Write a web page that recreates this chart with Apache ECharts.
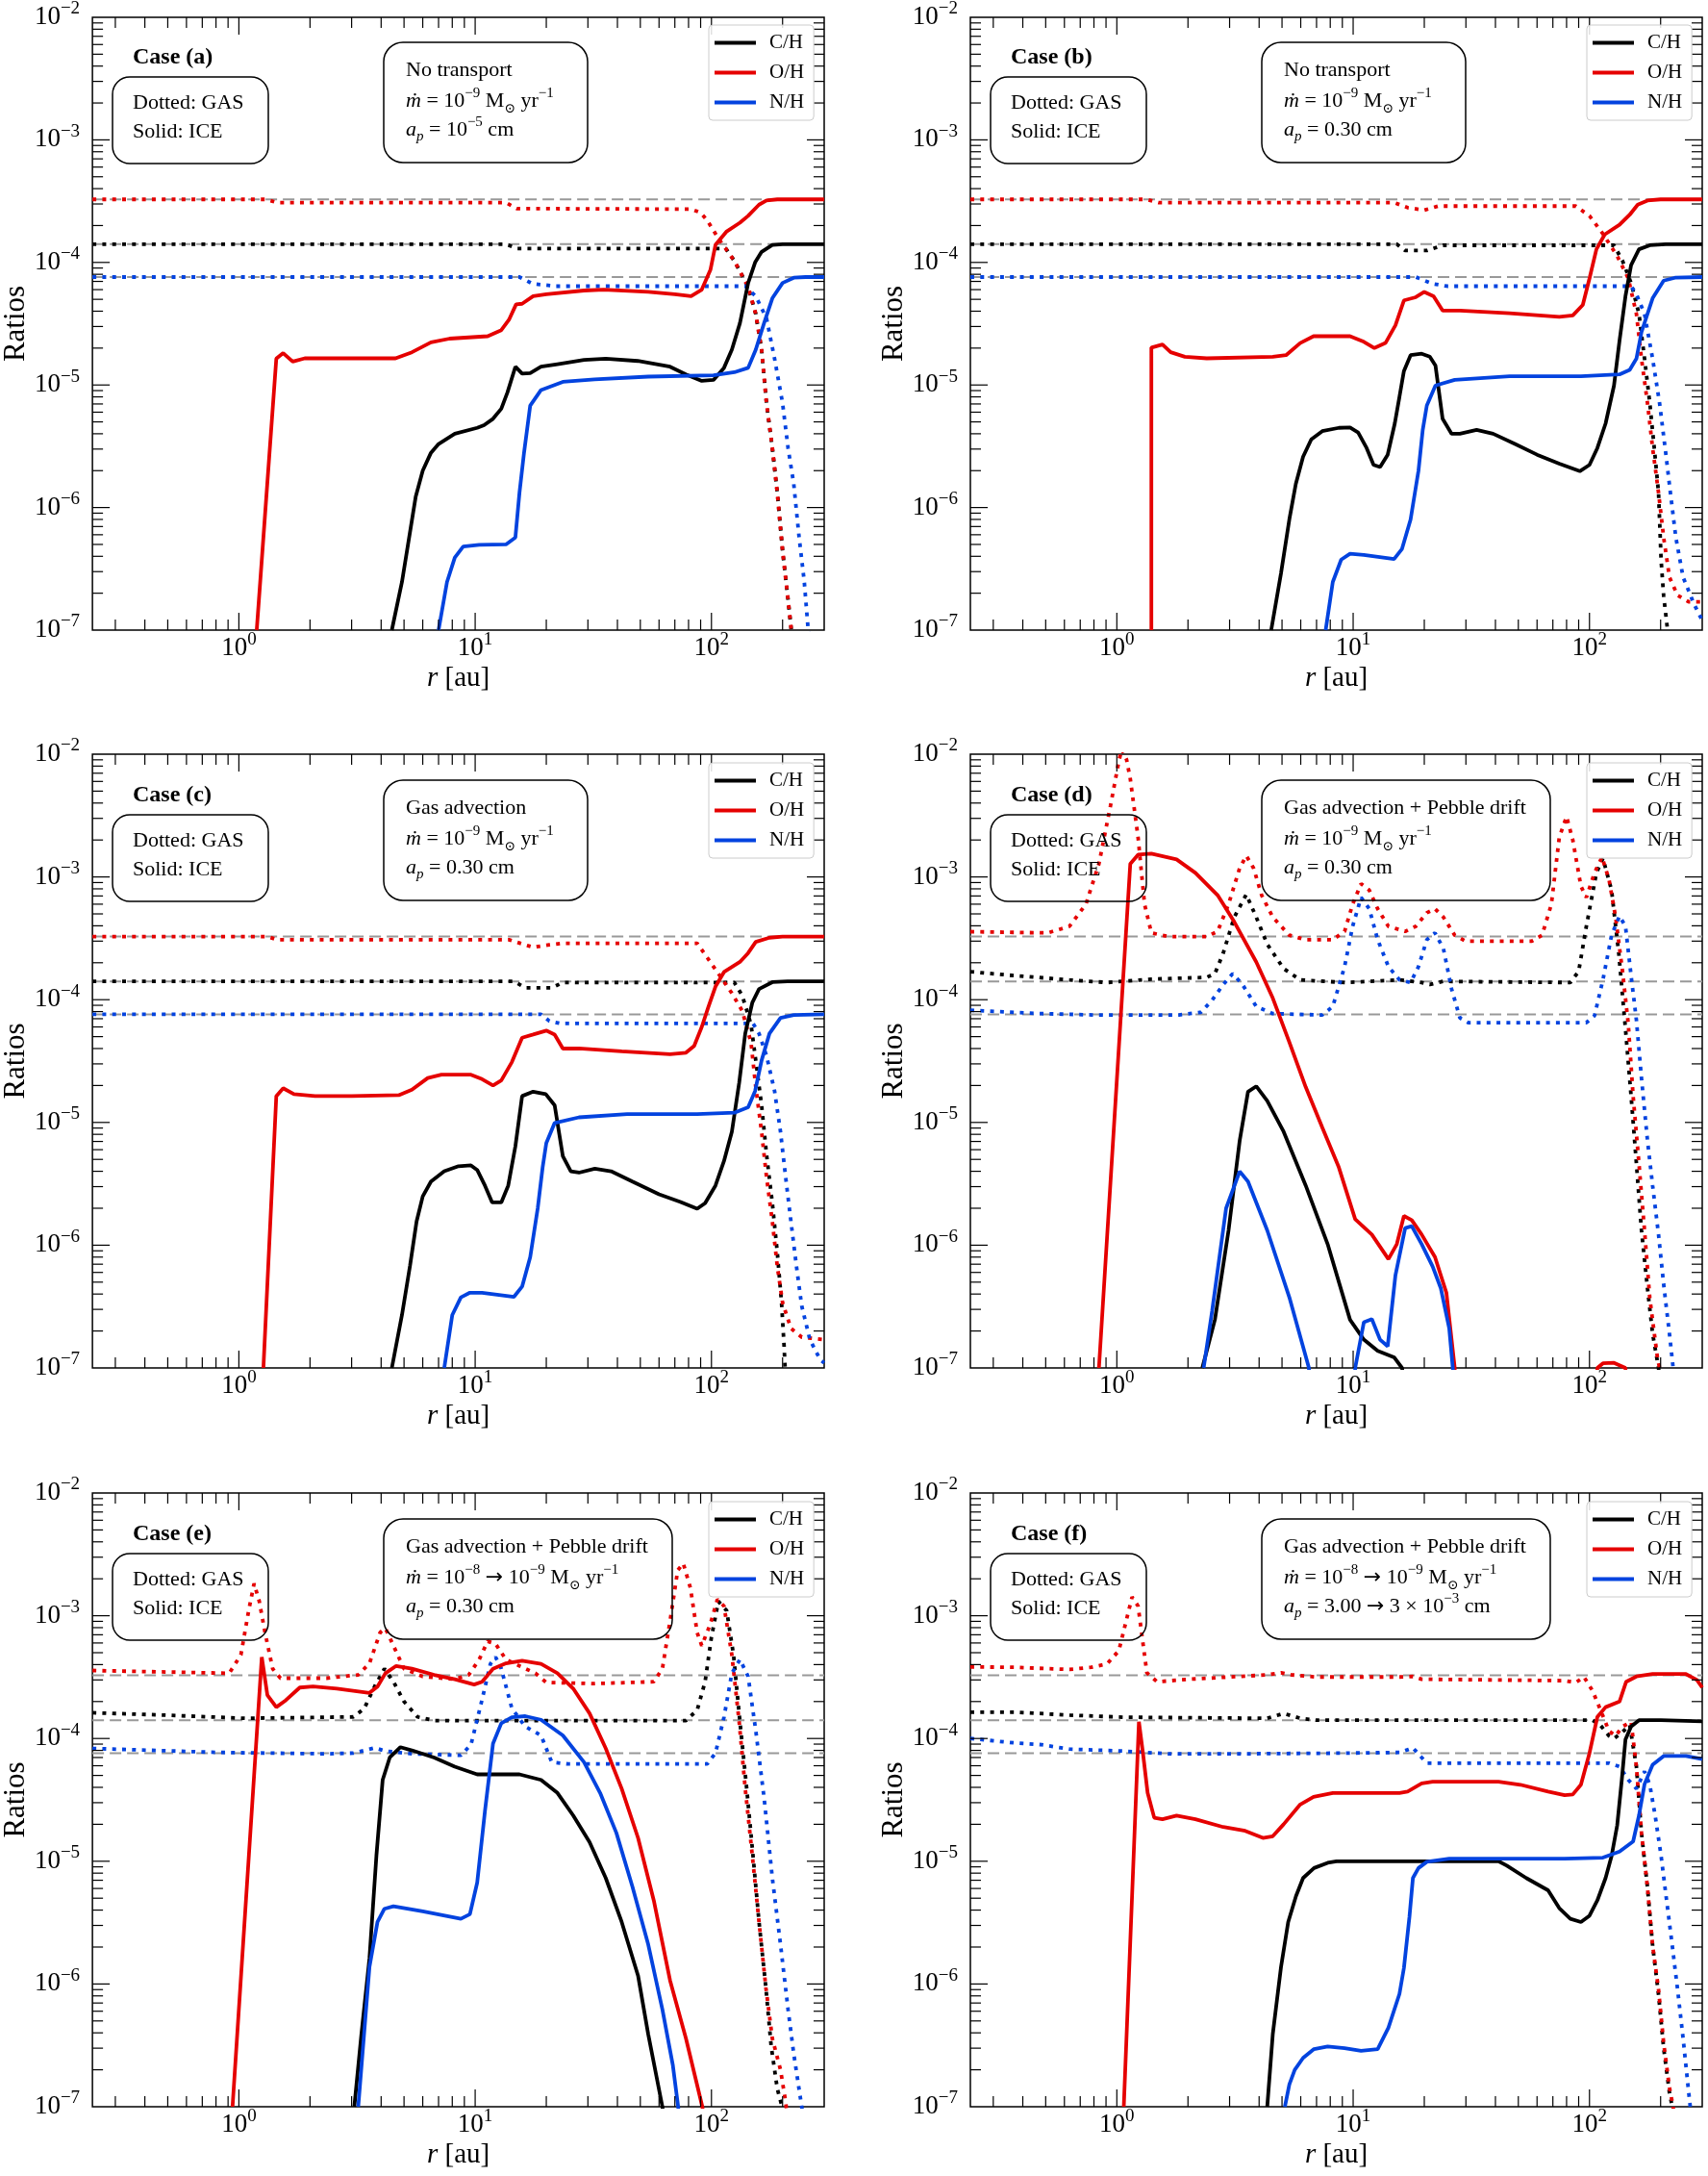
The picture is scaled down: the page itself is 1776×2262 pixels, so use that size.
<!DOCTYPE html>
<html>
<head>
<meta charset="utf-8">
<script src="https://cdn.jsdelivr.net/npm/echarts@6/dist/echarts.min.js"></script>
<style>
  html, body { margin: 0; padding: 0; background: #fff; }
  #main { width: 1776px; height: 2262px; }
</style>
</head>
<body>
<div id="main"></div>
<script>
// species and reference (dashed) ratios
const species = ['C/H', 'O/H', 'N/H'];
const speciesColor = ['#000000', '#e50000', '#0343df'];
const solarRatios = [1.41e-4, 3.27e-4, 7.6e-5];

// axis range / ticks
const xRange = [0.24, 300];
const yRange = [1e-7, 1e-2];
const xMinorTicks = [0.3, 0.4, 0.5, 0.6, 0.7, 0.8, 0.9, 2, 3, 4, 5, 6, 7, 8, 9, 20, 30, 40, 50, 60, 70, 80, 90, 200];
const xMajorTicks = [1, 10, 100];
const yMajorTicks = [1e-6, 1e-5, 1e-4, 1e-3];
const yMinorTicks = [];
[-7, -6, -5, -4, -3].forEach(function (e) {
  for (let m = 2; m <= 9; m++) yMinorTicks.push(m * Math.pow(10, e));
});

// ---------- case (a) ----------
const aCH_gas = [[0.24,1.41e-4],[13.5,1.41e-4],[15,1.3e-4],[115,1.3e-4],[125,1.03e-4],[143,6.3e-5],[154,3.8e-5],[163,1.94e-5],[171,7.1e-6],[181,3.06e-6],[190,1.32e-6],[200,4.45e-7],[211,1.77e-7],[217,1.07e-7],[220,8e-8]];
const aOH_gas = [[0.24,3.27e-4],[1.3,3.27e-4],[1.45,3.08e-4],[13.5,3.08e-4],[15,2.75e-4],[82,2.72e-4],[90,2.55e-4],[96,2.2e-4],[107,1.57e-4],[125,1.03e-4],[143,6.3e-5],[154,3.8e-5],[163,1.94e-5],[171,7.1e-6],[181,3.06e-6],[190,1.32e-6],[200,4.45e-7],[211,1.77e-7],[217,1.07e-7],[220,8e-8]];
const aNH_gas = [[0.24,7.6e-5],[15.4,7.6e-5],[17.5,6.7e-5],[22,6.4e-5],[139,6.4e-5],[154,5.3e-5],[171,3.5e-5],[185,1.64e-5],[200,7.1e-6],[211,3.06e-6],[223,1.56e-6],[235,5.7e-7],[247,2.5e-7],[256,1.07e-7],[260,8e-8]];
const aCH_ice = [[4.44,1e-7],[4.9,2.47e-7],[5.6,1.22e-6],[6.0,2.0e-6],[6.5,2.8e-6],[7.0,3.3e-6],[8.2,4.0e-6],[10.2,4.47e-6],[10.9,4.7e-6],[11.9,5.3e-6],[12.9,6.4e-6],[13.7,8.7e-6],[14.8,1.41e-5],[15.8,1.24e-5],[17.1,1.25e-5],[19,1.41e-5],[22.3,1.48e-5],[28.9,1.6e-5],[35.7,1.64e-5],[48.8,1.57e-5],[66.8,1.41e-5],[78,1.22e-5],[91,1.08e-5],[102,1.1e-5],[113,1.38e-5],[122,1.94e-5],[132,3.2e-5],[143,6.8e-5],[153,1.0e-4],[163,1.22e-4],[181,1.39e-4],[200,1.41e-4],[300,1.41e-4]];
const aOH_ice = [[1.19,1e-7],[1.44,1.64e-5],[1.54,1.82e-5],[1.69,1.55e-5],[1.9,1.65e-5],[4.6,1.65e-5],[5.4,1.85e-5],[6.5,2.23e-5],[7.8,2.39e-5],[11.3,2.5e-5],[12.9,2.8e-5],[13.9,3.4e-5],[14.9,4.55e-5],[15.8,4.6e-5],[17.6,5.3e-5],[20,5.5e-5],[28.9,5.9e-5],[35,6.0e-5],[54,5.75e-5],[70,5.5e-5],[82,5.3e-5],[91,6e-5],[99,8.7e-5],[104,1.39e-4],[116,1.79e-4],[132,2.11e-4],[143,2.4e-4],[159,2.96e-4],[171,3.2e-4],[190,3.27e-4],[300,3.27e-4]];
const aNH_ice = [[7.0,1e-7],[7.6,2.47e-7],[8.2,3.9e-7],[8.9,4.8e-7],[10.4,4.96e-7],[13.5,5e-7],[14.8,5.7e-7],[15.4,1.32e-6],[16.1,2.8e-6],[17.1,6.8e-6],[19,9.1e-6],[23.5,1.06e-5],[32,1.11e-5],[54,1.17e-5],[102,1.2e-5],[125,1.27e-5],[143,1.38e-5],[154,1.94e-5],[167,3.2e-5],[181,5.1e-5],[200,6.8e-5],[223,7.5e-5],[250,7.6e-5],[300,7.6e-5]];

// ---------- case (b) ----------
const bCH_gas = [[0.24,1.41e-4],[15.3,1.41e-4],[16.6,1.25e-4],[20.5,1.25e-4],[24,1.38e-4],[127,1.38e-4],[138,1.03e-4],[150,6.8e-5],[162,3.8e-5],[171,1.64e-5],[180,7.1e-6],[188,3.06e-6],[196,1.32e-6],[201,3.7e-7],[206,1.9e-7],[214,1e-7],[216,8e-8]];
const bOH_gas = [[0.24,3.27e-4],[1.33,3.27e-4],[1.5,3.08e-4],[14.9,3.08e-4],[17,2.8e-4],[20,2.67e-4],[22.9,2.88e-4],[87.5,2.88e-4],[100,2.4e-4],[114,1.71e-4],[131,1.13e-4],[146,7.4e-5],[158,3.8e-5],[166,1.64e-5],[176,7.1e-6],[185,3.06e-6],[196,1.32e-6],[206,5.7e-7],[218,2.7e-7],[236,1.92e-7],[263,1.7e-7],[300,1.7e-7]];
const bNH_gas = [[0.24,7.6e-5],[18.4,7.6e-5],[21.7,6.7e-5],[25,6.4e-5],[150,6.4e-5],[158,5.5e-5],[171,3.8e-5],[185,1.64e-5],[198,7.1e-6],[209,3.06e-6],[220,1.32e-6],[232,5.7e-7],[249,2.7e-7],[277,1.63e-7],[300,1.2e-7]];
const bCH_ice = [[4.5,1e-7],[4.95,2.9e-7],[5.37,8e-7],[5.72,1.56e-6],[6.14,2.6e-6],[6.65,3.6e-6],[7.4,4.2e-6],[8.7,4.47e-6],[9.7,4.5e-6],[10.5,4.1e-6],[11.4,3.06e-6],[12.2,2.23e-6],[13.0,2.14e-6],[14.0,2.7e-6],[15.0,4.85e-6],[15.7,8.0e-6],[16.4,1.3e-5],[17.5,1.75e-5],[19.5,1.8e-5],[21.1,1.7e-5],[22.3,1.44e-5],[23.9,5.3e-6],[26.1,4.0e-6],[28.3,4.0e-6],[33.3,4.3e-6],[39.1,4.0e-6],[48.4,3.3e-6],[60,2.7e-6],[74.5,2.28e-6],[91,1.98e-6],[100,2.23e-6],[108,3.06e-6],[117,4.85e-6],[127,9.9e-6],[134,2.29e-5],[142,5.3e-5],[150,9.5e-5],[162,1.28e-4],[180,1.38e-4],[210,1.41e-4],[300,1.41e-4]];
const bOH_ice = [[1.40,1e-7],[1.40,2.02e-5],[1.56,2.14e-5],[1.69,1.85e-5],[1.94,1.7e-5],[2.4,1.65e-5],[4.57,1.7e-5],[5.2,1.75e-5],[5.97,2.2e-5],[6.8,2.5e-5],[9.7,2.5e-5],[11.1,2.25e-5],[12.3,2.0e-5],[13.7,2.2e-5],[15.1,3.07e-5],[16.4,4.9e-5],[18.4,5.2e-5],[20,5.75e-5],[21.9,5.3e-5],[23.9,4.05e-5],[28.3,4.05e-5],[45.9,3.85e-5],[74.5,3.6e-5],[85,3.7e-5],[93.7,4.5e-5],[100,7.4e-5],[107,1.28e-4],[116,1.69e-4],[134,2.03e-4],[148,2.45e-4],[160,2.96e-4],[176,3.2e-4],[200,3.27e-4],[300,3.27e-4]];
const bNH_ice = [[7.65,1e-7],[8.2,2.47e-7],[8.9,3.76e-7],[9.7,4.2e-7],[11.1,4.1e-7],[14.9,3.8e-7],[16.1,4.6e-7],[17.5,8e-7],[18.9,2.0e-6],[19.7,4.3e-6],[20.5,6.8e-6],[22.3,9.9e-6],[26.9,1.1e-5],[45.9,1.18e-5],[92,1.18e-5],[134,1.22e-5],[148,1.33e-5],[158,1.64e-5],[166,2.7e-5],[185,5.1e-5],[206,7.1e-5],[230,7.5e-5],[300,7.6e-5]];

// ---------- case (c) ----------
const cCH_gas = [[0.24,1.41e-4],[14.6,1.41e-4],[16.3,1.25e-4],[21.1,1.25e-4],[23.5,1.38e-4],[125,1.38e-4],[135,1.08e-4],[147,6.3e-5],[154,3.2e-5],[163,1.38e-5],[171,5.5e-6],[181,2.2e-6],[190,8.7e-7],[198,3.4e-7],[203,1.5e-7],[205,1e-7],[207,8e-8]];
const cOH_gas = [[0.24,3.27e-4],[1.32,3.27e-4],[1.45,3.08e-4],[13.9,3.08e-4],[17.6,2.67e-4],[20.6,2.8e-4],[23.5,2.88e-4],[87,2.88e-4],[96,2.2e-4],[107,1.63e-4],[122,1.13e-4],[135,8.1e-5],[147,4.5e-5],[154,1.94e-5],[163,8.4e-6],[171,3.6e-6],[181,1.56e-6],[190,6.7e-7],[200,3.4e-7],[217,2.1e-7],[241,1.78e-7],[300,1.7e-7]];
const cNH_gas = [[0.24,7.6e-5],[19,7.6e-5],[20.6,6.7e-5],[23,6.4e-5],[150,6.4e-5],[159,5.3e-5],[171,3.5e-5],[185,1.8e-5],[196,8.4e-6],[206,3.6e-6],[217,1.56e-6],[229,6.7e-7],[241,3.2e-7],[261,1.7e-7],[289,1.16e-7],[300,1.1e-7]];
const cCH_ice = [[4.44,1e-7],[4.9,2.7e-7],[5.3,6.8e-7],[5.65,1.56e-6],[6.0,2.5e-6],[6.5,3.3e-6],[7.4,4.0e-6],[8.5,4.4e-6],[9.6,4.47e-6],[10.2,4.1e-6],[11.0,3.06e-6],[11.8,2.23e-6],[12.9,2.23e-6],[13.8,3.06e-6],[14.8,6.4e-6],[15.8,1.64e-5],[17.6,1.78e-5],[19.9,1.7e-5],[21.7,1.38e-5],[23.5,5.3e-6],[25.4,4.0e-6],[27.5,3.9e-6],[32.1,4.2e-6],[37.6,4.0e-6],[46.3,3.3e-6],[60,2.6e-6],[74,2.25e-6],[87,1.98e-6],[94,2.2e-6],[104,3.06e-6],[113,4.85e-6],[122,8.4e-6],[131,2.1e-5],[139,5.3e-5],[149,9.5e-5],[159,1.22e-4],[181,1.39e-4],[210,1.41e-4],[300,1.41e-4]];
const cOH_ice = [[1.27,1e-7],[1.44,1.64e-5],[1.54,1.9e-5],[1.71,1.7e-5],[2.1,1.64e-5],[3.0,1.64e-5],[4.75,1.67e-5],[5.4,1.85e-5],[6.3,2.3e-5],[7.2,2.45e-5],[9.6,2.45e-5],[10.7,2.25e-5],[11.9,2.0e-5],[12.9,2.2e-5],[14.3,3.1e-5],[15.8,4.9e-5],[17.6,5.2e-5],[20,5.6e-5],[21.7,5.2e-5],[23.5,4.0e-5],[27.5,4.0e-5],[41.7,3.8e-5],[66.8,3.6e-5],[78,3.7e-5],[84.5,4.2e-5],[91,6e-5],[97,8.7e-5],[104,1.28e-4],[113,1.68e-4],[132,2.03e-4],[143,2.4e-4],[154,2.96e-4],[176,3.2e-4],[200,3.27e-4],[300,3.27e-4]];
const cNH_ice = [[7.4,1e-7],[8.0,2.7e-7],[8.7,3.76e-7],[9.5,4.1e-7],[10.7,4.1e-7],[14.6,3.8e-7],[15.8,4.6e-7],[17.1,8e-7],[18.4,2.0e-6],[19.3,4.3e-6],[20,6.8e-6],[21.7,9.9e-6],[27.5,1.1e-5],[44,1.17e-5],[87,1.17e-5],[125,1.2e-5],[143,1.33e-5],[153,1.8e-5],[163,3.2e-5],[176,5.3e-5],[196,7.1e-5],[223,7.5e-5],[300,7.6e-5]];

// ---------- case (d) ----------
const dCH_gas = [[0.24,1.69e-4],[0.37,1.57e-4],[0.63,1.45e-4],[0.91,1.38e-4],[1.4,1.47e-4],[2.4,1.52e-4],[2.6,1.63e-4],[2.82,2.4e-4],[3.14,4.7e-4],[3.53,7.2e-4],[3.89,4.7e-4],[4.33,2.83e-4],[5.08,1.79e-4],[5.97,1.45e-4],[9.2,1.38e-4],[15.7,1.45e-4],[19.5,1.38e-4],[21.1,1.33e-4],[24,1.41e-4],[83,1.38e-4],[90,1.7e-4],[97,3.96e-4],[107,1.08e-3],[114,1.42e-3],[124,7.8e-4],[133,2.4e-4],[142,5.8e-5],[150,1.64e-5],[158,4.6e-6],[166,1.32e-6],[176,4.45e-7],[185,1.9e-7],[196,1e-7],[198,8e-8]];
const dOH_gas = [[0.24,3.58e-4],[0.51,3.5e-4],[0.63,3.96e-4],[0.74,6.0e-4],[0.84,1.28e-3],[0.94,3.8e-3],[1.02,8.8e-3],[1.05,1.1e-2],[1.1,9e-3],[1.14,6.3e-3],[1.23,2.1e-3],[1.31,6e-4],[1.40,3.5e-4],[1.65,3.27e-4],[2.4,3.27e-4],[2.67,3.6e-4],[2.97,6e-4],[3.31,1.18e-3],[3.53,1.49e-3],[3.79,1.18e-3],[4.1,7.1e-4],[4.57,4.7e-4],[5.37,3.35e-4],[6.3,3.08e-4],[8.2,3.08e-4],[9.2,3.6e-4],[9.95,6.0e-4],[10.8,8.8e-4],[11.7,7.8e-4],[12.7,5.5e-4],[14.1,3.96e-4],[16.6,3.6e-4],[18.4,3.96e-4],[20.5,5.1e-4],[22.2,5.5e-4],[24.1,4.7e-4],[26.9,3.35e-4],[29.9,3.0e-4],[57,3.0e-4],[63,3.35e-4],[69,6e-4],[74.5,2.1e-3],[80,3.1e-3],[85,2.0e-3],[92,8.4e-4],[97,6.8e-4],[105,1.08e-3],[113,1.45e-3],[121,9.5e-4],[129,4.7e-4],[138,1.7e-4],[146,6.3e-5],[153,1.64e-5],[162,4.6e-6],[171,1.32e-6],[180,3.7e-7],[194,1.2e-7],[198,1e-7],[200,8e-8]];
const dNH_gas = [[0.24,8.2e-5],[0.48,7.7e-5],[0.82,7.5e-5],[1.83,7.5e-5],[2.27,7.9e-5],[2.53,9.9e-5],[2.82,1.33e-4],[3.09,1.63e-4],[3.4,1.33e-4],[3.89,8.8e-5],[4.57,7.7e-5],[7.4,7.5e-5],[8.2,8.8e-5],[9.2,1.86e-4],[9.95,3.96e-4],[10.8,6.8e-4],[11.7,5.5e-4],[12.7,3.08e-4],[14.1,1.86e-4],[15.7,1.45e-4],[17.5,1.38e-4],[18.9,1.86e-4],[20.5,3.08e-4],[22.2,3.5e-4],[24.1,2.6e-4],[26.1,1.22e-4],[28.3,7.1e-5],[30.7,6.5e-5],[97,6.5e-5],[105,7.4e-5],[114,1.45e-4],[124,3.35e-4],[134,4.8e-4],[142,3.96e-4],[150,1.57e-4],[158,6.8e-5],[166,2.29e-5],[176,7.1e-6],[185,3.06e-6],[196,1.22e-6],[206,4.8e-7],[218,1.9e-7],[226,1e-7],[228,8e-8]];
const dCH_ice = [[2.3,1e-7],[2.6,2.47e-7],[2.97,1.32e-6],[3.31,7.1e-6],[3.59,1.78e-5],[3.89,1.97e-5],[4.33,1.5e-5],[5.08,8.4e-6],[6.3,3.06e-6],[7.8,1.02e-6],[9.7,2.47e-7],[11.1,1.7e-7],[12.7,1.38e-7],[14.9,1.22e-7],[16.1,1e-7],[17,5e-8]];
const dOH_ice = [[0.84,1e-7],[1.14,1.28e-3],[1.23,1.52e-3],[1.4,1.55e-3],[1.79,1.39e-3],[2.15,1.08e-3],[2.67,7.1e-4],[3.14,4.3e-4],[3.89,2.03e-4],[4.57,1.03e-4],[5.37,4.5e-5],[6.3,1.94e-5],[7.4,9.1e-6],[8.7,4.3e-6],[10.2,1.63e-6],[12,1.22e-6],[14.1,7.7e-7],[15.3,1.02e-6],[16.4,1.73e-6],[17.7,1.6e-6],[19.5,1.22e-6],[22.2,8.0e-7],[24.8,4.1e-7],[26.9,1e-7],[28,1e-9],[100,1e-9],[108,1e-7],[114,1.09e-7],[127,1.1e-7],[142,1.0e-7],[150,1e-9]];
const dNH_ice = [[2.33,1e-7],[2.53,2.9e-7],[2.9,2.0e-6],[3.31,4.0e-6],[3.59,3.3e-6],[4.33,1.32e-6],[5.37,3.76e-7],[6.5,1e-7],[6.7,1e-9],[10.0,1e-9],[10.2,1e-7],[11.1,2.36e-7],[12.0,2.5e-7],[13.0,1.7e-7],[14.0,1.5e-7],[15.1,5.7e-7],[16.6,1.38e-6],[17.7,1.43e-6],[19.5,1.02e-6],[21.7,6.7e-7],[23.5,4.45e-7],[25.5,2.1e-7],[26.4,1e-7],[27,5e-8]];

// ---------- case (e) ----------
const eCH_gas = [[0.24,1.62e-4],[0.49,1.55e-4],[1.07,1.46e-4],[3.05,1.5e-4],[3.39,1.75e-4],[3.76,2.67e-4],[4.13,3.7e-4],[4.51,2.9e-4],[5.0,2.0e-4],[5.7,1.5e-4],[6.7,1.4e-4],[78,1.4e-4],[87,1.7e-4],[94,2.9e-4],[100,6.7e-4],[107,1.31e-3],[116,1.1e-3],[124,4.8e-4],[132,1.37e-4],[141,3.9e-5],[150,1.1e-5],[159,3.2e-6],[170,9.3e-7],[179,3.1e-7],[190,1.4e-7],[199,1e-7],[202,8e-8]];
const eOH_gas = [[0.24,3.58e-4],[0.91,3.4e-4],[1.02,4.8e-4],[1.1,1.1e-3],[1.16,1.83e-3],[1.22,1.31e-3],[1.29,7.3e-4],[1.39,3.7e-4],[1.5,3.1e-4],[2.35,3.1e-4],[3.2,3.3e-4],[3.57,4.1e-4],[3.96,7.3e-4],[4.17,7.9e-4],[4.51,5.7e-4],[5.0,3.7e-4],[6.0,3.2e-4],[8.2,3.04e-4],[9.4,3.3e-4],[10.4,4.4e-4],[11.3,6.2e-4],[12.2,5.9e-4],[13.5,4.4e-4],[15.4,3.9e-4],[18,3.4e-4],[20,2.86e-4],[32,2.8e-4],[57,2.9e-4],[62,3.7e-4],[67,9.4e-4],[72,2.35e-3],[76,2.67e-3],[81.5,1.68e-3],[87,7.3e-4],[91,5.7e-4],[99,8.6e-4],[106,1.36e-3],[113,1.2e-3],[122,4.8e-4],[131,1.37e-4],[139,3.9e-5],[149,1.1e-5],[159,3.2e-6],[170,9.3e-7],[181,3.6e-7],[196,2.0e-7],[206,1.1e-7],[210,8e-8]];
const eNH_gas = [[0.24,8.3e-5],[0.82,7.7e-5],[2.35,7.5e-5],[3.05,7.6e-5],[3.76,8.4e-5],[4.17,7.9e-5],[5.4,7.5e-5],[8.7,7.3e-5],[9.6,8.9e-5],[10.7,2.08e-4],[11.6,4.05e-4],[12.2,4.6e-4],[12.9,3.7e-4],[14.3,1.76e-4],[16.3,1.25e-4],[19,1.06e-4],[21.1,6.4e-5],[24.7,6.2e-5],[96,6.2e-5],[104,7.6e-5],[113,1.49e-4],[122,3.4e-4],[132,4.4e-4],[143,3.2e-4],[154,1.16e-4],[167,3.3e-5],[181,7.3e-6],[196,2.1e-6],[211,6.2e-7],[223,2.7e-7],[241,1e-7],[245,8e-8]];
const eCH_ice = [[3.08,1e-7],[3.3,3.9e-7],[3.57,1.62e-6],[3.82,1.11e-5],[4.06,4.6e-5],[4.35,7e-5],[4.83,8.5e-5],[5.4,8e-5],[6.7,7e-5],[8.2,5.9e-5],[10.2,5.1e-5],[15.4,5.1e-5],[19,4.6e-5],[22.3,3.6e-5],[26,2.36e-5],[30.5,1.43e-5],[35.7,7.3e-6],[41.7,3.2e-6],[48.9,1.17e-6],[54,3.9e-7],[62,1e-7],[64,6e-8]];
const eOH_ice = [[0.94,1e-7],[1.25,4.6e-4],[1.32,2.26e-4],[1.44,1.8e-4],[1.58,2.05e-4],[1.81,2.6e-4],[2.06,2.65e-4],[2.6,2.55e-4],[3.57,2.35e-4],[3.86,2.65e-4],[4.17,3.4e-4],[4.63,3.9e-4],[5.4,3.7e-4],[6.7,3.3e-4],[8.2,3.04e-4],[9.9,2.75e-4],[10.7,2.9e-4],[11.9,3.7e-4],[13.5,4.1e-4],[15.8,4.3e-4],[19,4.05e-4],[22.3,3.4e-4],[26,2.55e-4],[30.5,1.6e-4],[35.7,8.3e-5],[41.7,3.9e-5],[48.9,1.55e-5],[57,4.8e-6],[66.8,1.07e-6],[78,3.6e-7],[91.5,1e-7],[95,6e-8]];
const eNH_ice = [[3.2,1e-7],[3.57,1.38e-6],[3.86,3.2e-6],[4.13,4.1e-6],[4.51,4.3e-6],[6.0,3.9e-6],[8.7,3.4e-6],[9.5,3.7e-6],[10.2,6.7e-6],[11.0,2.56e-5],[11.9,9.1e-5],[12.9,1.33e-4],[14.3,1.49e-4],[16.3,1.52e-4],[19,1.42e-4],[23.5,1.06e-4],[28.9,6.4e-5],[33.8,3.6e-5],[39.6,1.7e-5],[46.3,6.2e-6],[54,2.1e-6],[62,6.2e-7],[68.6,2.2e-7],[72.3,1e-7],[74,6e-8]];

// ---------- case (f) ----------
const fCH_gas = [[0.24,1.64e-4],[0.37,1.64e-4],[0.63,1.55e-4],[1.07,1.49e-4],[4.33,1.46e-4],[5.08,1.6e-4],[5.97,1.46e-4],[7.0,1.41e-4],[103,1.41e-4],[111,1.29e-4],[121,1.05e-4],[127,1.0e-4],[138,1.13e-4],[148,1.29e-4],[158,5.9e-5],[166,1.7e-5],[176,6.1e-6],[185,2.06e-6],[196,8.2e-7],[206,3e-7],[218,1.3e-7],[224,1e-7],[226,8e-8]];
const fOH_gas = [[0.24,3.83e-4],[0.37,3.8e-4],[0.63,3.65e-4],[0.78,3.8e-4],[0.91,4.05e-4],[1.02,5.2e-4],[1.1,9.4e-4],[1.16,1.42e-3],[1.23,1.2e-3],[1.28,6.7e-4],[1.34,3.43e-4],[1.48,2.9e-4],[2.04,3.04e-4],[4.33,3.3e-4],[4.95,3.43e-4],[5.5,3.3e-4],[7.0,3.17e-4],[15.7,3.17e-4],[17.9,3.2e-4],[19.5,3.04e-4],[78.5,2.96e-4],[87.5,2.86e-4],[94.8,3.17e-4],[103,2.45e-4],[111,1.73e-4],[121,1.15e-4],[129,1.05e-4],[138,1.25e-4],[150,1.37e-4],[158,5.9e-5],[166,1.7e-5],[176,6.1e-6],[185,2.06e-6],[196,9.0e-7],[206,3.3e-7],[218,1.43e-7],[226,1e-7],[228,8e-8]];
const fNH_gas = [[0.24,1.0e-4],[0.37,9.2e-5],[0.48,8.9e-5],[0.63,8.2e-5],[1.07,7.9e-5],[1.65,7.5e-5],[3.14,7.5e-5],[9.2,7.6e-5],[15.7,7.7e-5],[17.0,8.1e-5],[17.9,8.4e-5],[19.5,7e-5],[20.5,6.3e-5],[121,6.3e-5],[134,5.9e-5],[146,4.6e-5],[158,3.9e-5],[171,5.4e-5],[180,4.2e-5],[190,2.3e-5],[201,1.1e-5],[212,4.8e-6],[224,2.06e-6],[236,9e-7],[249,3.6e-7],[263,1.3e-7],[267,1e-7],[270,8e-8]];
const fCH_ice = [[4.33,1e-7],[4.57,3.9e-7],[4.95,1.37e-6],[5.31,3.2e-6],[5.73,5.2e-6],[6.14,7.3e-6],[6.83,8.8e-6],[7.8,9.7e-6],[8.5,1.0e-5],[41.2,1.0e-5],[44.7,9.2e-6],[54,7.3e-6],[66.8,5.8e-6],[74.5,4.15e-6],[83,3.4e-6],[92,3.2e-6],[100,3.6e-6],[108,4.8e-6],[117,7.3e-6],[124,1.1e-5],[131,1.96e-5],[137,4.6e-5],[142,9.8e-5],[150,1.25e-4],[162,1.41e-4],[200,1.41e-4],[300,1.38e-4]];
const fOH_ice = [[1.07,1e-7],[1.24,1.37e-4],[1.29,7.6e-5],[1.35,3.6e-5],[1.44,2.26e-5],[1.56,2.2e-5],[1.79,2.35e-5],[2.15,2.2e-5],[2.82,1.9e-5],[3.49,1.77e-5],[4.15,1.55e-5],[4.57,1.6e-5],[5.08,2.0e-5],[5.97,2.9e-5],[6.8,3.35e-5],[8.2,3.6e-5],[15.7,3.6e-5],[17.0,3.7e-5],[19.5,4.3e-5],[21.7,4.45e-5],[41.2,4.45e-5],[51,4.2e-5],[66.8,3.7e-5],[78.5,3.45e-5],[85,3.5e-5],[92,4.2e-5],[100,7.6e-5],[108,1.5e-4],[117,1.8e-4],[134,2.0e-4],[143,2.9e-4],[158,3.2e-4],[185,3.35e-4],[256,3.35e-4],[285,3.0e-4],[300,2.6e-4]];
const fNH_ice = [[5.14,1e-7],[5.37,1.52e-7],[5.66,2.0e-7],[6.14,2.5e-7],[6.83,2.95e-7],[7.8,3.1e-7],[9.2,3.0e-7],[10.8,2.85e-7],[12.7,2.95e-7],[14.1,4.4e-7],[15.7,8.3e-7],[16.4,1.35e-6],[17.3,3.5e-6],[17.9,7.3e-6],[18.9,8.8e-6],[20.5,9.9e-6],[25.5,1.05e-5],[78.5,1.05e-5],[114,1.07e-5],[134,1.2e-5],[153,1.45e-5],[162,2.36e-5],[171,4.25e-5],[185,6.1e-5],[206,7.2e-5],[256,7.2e-5],[300,6.8e-5]];

// panel texts
const caseLabels = ['Case (a)', 'Case (b)', 'Case (c)', 'Case (d)', 'Case (e)', 'Case (f)'];
const transportLabels = ['No transport', 'No transport', 'Gas advection',
  'Gas advection + Pebble drift', 'Gas advection + Pebble drift', 'Gas advection + Pebble drift'];
const mdotLabels = [
  '{i|ṁ} = 10{sup|−9} M{sub|⊙} yr{sup|−1}',
  '{i|ṁ} = 10{sup|−9} M{sub|⊙} yr{sup|−1}',
  '{i|ṁ} = 10{sup|−9} M{sub|⊙} yr{sup|−1}',
  '{i|ṁ} = 10{sup|−9} M{sub|⊙} yr{sup|−1}',
  '{i|ṁ} = 10{sup|−8} {arr|→} 10{sup|−9} M{sub|⊙} yr{sup|−1}',
  '{i|ṁ} = 10{sup|−8} {arr|→} 10{sup|−9} M{sub|⊙} yr{sup|−1}'
];
const apLabels = [
  '{i|a}{subi|p} = 10{sup|−5} cm',
  '{i|a}{subi|p} = 0.30 cm',
  '{i|a}{subi|p} = 0.30 cm',
  '{i|a}{subi|p} = 0.30 cm',
  '{i|a}{subi|p} = 0.30 cm',
  '{i|a}{subi|p} = 3.00 {arr|→} 3 × 10{sup|−3} cm'
];

const panelData = [
  [aCH_ice, aCH_gas, aOH_ice, aOH_gas, aNH_ice, aNH_gas],
  [bCH_ice, bCH_gas, bOH_ice, bOH_gas, bNH_ice, bNH_gas],
  [cCH_ice, cCH_gas, cOH_ice, cOH_gas, cNH_ice, cNH_gas],
  [dCH_ice, dCH_gas, dOH_ice, dOH_gas, dNH_ice, dNH_gas],
  [eCH_ice, eCH_gas, eOH_ice, eOH_gas, eNH_ice, eNH_gas],
  [fCH_ice, fCH_gas, fOH_ice, fOH_gas, fNH_ice, fNH_gas]
];

const FONT = "'Liberation Serif', 'DejaVu Serif', serif";
const colLeft = [96, 1009];
const rowTop = [17, 784, 1552];
const PW = 761, PH = 638;

function powLabel(v) {
  const e = Math.log10(v);
  const r = Math.round(e);
  if (Math.abs(e - r) > 1e-6) return '';
  return '{b|10}{s|' + (r < 0 ? '−' + (-r) : r) + '}';
}
const labelRich = {
  b: { fontSize: 27, fontFamily: FONT, color: '#000', lineHeight: 36 },
  s: { fontSize: 19, fontFamily: FONT, color: '#000', lineHeight: 19, verticalAlign: 'top' }
};
const boxRich = {
  i: { fontSize: 22, fontFamily: FONT, fontStyle: 'italic', color: '#000', lineHeight: 30 },
  arr: { fontSize: 22, fontFamily: "'DejaVu Sans', sans-serif", color: '#000', lineHeight: 30 },
  sup: { fontSize: 15, fontFamily: FONT, color: '#000', lineHeight: 14, verticalAlign: 'top' },
  sub: { fontSize: 14, fontFamily: FONT, color: '#000', lineHeight: 12, verticalAlign: 'bottom' },
  subi: { fontSize: 15, fontFamily: FONT, fontStyle: 'italic', color: '#000', lineHeight: 12, verticalAlign: 'bottom' }
};

// ticks (major + minor) mirrored on all four sides, placed through the axes
const tickItems = [];
xMajorTicks.forEach(function (v) { tickItems.push([v, yRange[0], 0, 1]); });
xMinorTicks.forEach(function (v) { tickItems.push([v, yRange[0], 0, 0]); });
yMajorTicks.forEach(function (v) { tickItems.push([xRange[0], v, 1, 1]); });
yMinorTicks.forEach(function (v) { tickItems.push([xRange[0], v, 1, 0]); });

function renderTick(params, api) {
  const kind = api.value(2);
  const len = api.value(3) ? 18 : 11;
  const st = { stroke: '#000', lineWidth: 1.2 };
  if (kind === 0) {
    const v = api.value(0);
    const p = api.coord([v, yRange[0]]);
    const q = api.coord([v, yRange[1]]);
    return { type: 'group', children: [
      { type: 'line', shape: { x1: p[0], y1: p[1], x2: p[0], y2: p[1] - len }, style: st },
      { type: 'line', shape: { x1: q[0], y1: q[1], x2: q[0], y2: q[1] + len }, style: st }
    ]};
  }
  const v = api.value(1);
  const p = api.coord([xRange[0], v]);
  const q = api.coord([xRange[1], v]);
  return { type: 'group', children: [
    { type: 'line', shape: { x1: p[0], y1: p[1], x2: p[0] + len, y2: p[1] }, style: st },
    { type: 'line', shape: { x1: q[0], y1: q[1], x2: q[0] - len, y2: q[1] }, style: st }
  ]};
}

const grids = [], xAxes = [], yAxes = [], series = [], legends = [], graphics = [];

for (let p = 0; p < 6; p++) {
  const L = colLeft[p % 2], T = rowTop[Math.floor(p / 2)];
  grids.push({ left: L, top: T, width: PW, height: PH, show: true,
    borderColor: '#000', borderWidth: 1.5, backgroundColor: 'transparent' });
  xAxes.push({
    type: 'log', logBase: 10, gridIndex: p, min: xRange[0], max: xRange[1],
    name: '{i|r} [au]', nameLocation: 'middle', nameGap: 32,
    nameTextStyle: { fontSize: 29, fontFamily: FONT, color: '#000', lineHeight: 33,
      rich: { i: { fontSize: 29, fontFamily: FONT, fontStyle: 'italic', color: '#000', lineHeight: 33 } } },
    axisLine: { show: false }, axisTick: { show: false }, splitLine: { show: false },
    axisLabel: { formatter: powLabel, rich: labelRich, margin: 1, showMinLabel: false, showMaxLabel: false }
  });
  yAxes.push({
    type: 'log', logBase: 10, gridIndex: p, min: yRange[0], max: yRange[1],
    name: 'Ratios', nameLocation: 'middle', nameGap: 61,
    nameTextStyle: { fontSize: 31, fontFamily: FONT, color: '#000' },
    axisLine: { show: false }, axisTick: { show: false }, splitLine: { show: false },
    axisLabel: { formatter: powLabel, rich: labelRich, margin: 13 }
  });

  // reference abundance lines
  for (let s = 0; s < 3; s++) {
    series.push({
      name: 'ref ' + species[s], type: 'line', xAxisIndex: p, yAxisIndex: p,
      data: [[xRange[0], solarRatios[s]], [xRange[1], solarRatios[s]]],
      showSymbol: false, symbol: 'none', silent: true, z: 2,
      lineStyle: { color: '#999999', width: 2, type: [12, 6] }
    });
  }
  // ice (solid) and gas (dotted)
  for (let s = 0; s < 3; s++) {
    const col = speciesColor[s];
    series.push({
      name: species[s], type: 'line', xAxisIndex: p, yAxisIndex: p,
      data: panelData[p][2 * s + 1], showSymbol: false, symbol: 'none', z: 3,
      itemStyle: { color: col },
      lineStyle: { color: col, width: 3.8, type: [4, 6.3], cap: 'butt' }
    });
    series.push({
      name: species[s], type: 'line', xAxisIndex: p, yAxisIndex: p,
      data: panelData[p][2 * s], showSymbol: false, symbol: 'none', z: 4,
      itemStyle: { color: col },
      lineStyle: { color: col, width: 3.8 }
    });
  }
  series.push({
    name: 'ticks', type: 'custom', xAxisIndex: p, yAxisIndex: p,
    data: tickItems, renderItem: renderTick, silent: true, z: 6,
    encode: { x: 0, y: 1 }
  });

  legends.push({
    data: species, left: L + 641, top: T + 9, orient: 'vertical',
    icon: 'rect', itemWidth: 43, itemHeight: 4, itemGap: 10,
    padding: [8, 10, 8, 6], selectedMode: false,
    backgroundColor: 'rgba(255,255,255,0.85)', borderColor: '#cccccc', borderWidth: 1, borderRadius: 4,
    textStyle: { fontSize: 21, fontFamily: FONT, color: '#000', lineHeight: 20, padding: [0, 0, 0, 9] },
    z: 10
  });

  const boxW = p >= 3 ? 300 : 212;
  graphics.push(
    { type: 'text', x: L + 42, y: T + 43, z: 5,
      style: { text: caseLabels[p], fontSize: 24, fontWeight: 'bold', fontFamily: FONT, fill: '#000',
        verticalAlign: 'middle', textVerticalAlign: 'middle' } },
    { type: 'rect', z: 5, shape: { x: L + 21, y: T + 63, width: 162, height: 90, r: 18 },
      style: { fill: 'none', stroke: '#000', lineWidth: 1.5 } },
    { type: 'text', x: L + 42, y: T + 90, z: 5,
      style: { text: 'Dotted: GAS', fontSize: 22, fontFamily: FONT, fill: '#000',
        verticalAlign: 'middle', textVerticalAlign: 'middle' } },
    { type: 'text', x: L + 42, y: T + 120, z: 5,
      style: { text: 'Solid: ICE', fontSize: 22, fontFamily: FONT, fill: '#000',
        verticalAlign: 'middle', textVerticalAlign: 'middle' } },
    { type: 'rect', z: 5, shape: { x: L + 303, y: T + 27, width: boxW, height: 125, r: 20 },
      style: { fill: 'none', stroke: '#000', lineWidth: 1.5 } },
    { type: 'text', x: L + 326, y: T + 56, z: 5,
      style: { text: transportLabels[p], fontSize: 22, fontFamily: FONT, fill: '#000',
        verticalAlign: 'middle', textVerticalAlign: 'middle' } },
    { type: 'text', x: L + 326, y: T + 88, z: 5,
      style: { text: mdotLabels[p], fontSize: 22, fontFamily: FONT, fill: '#000', lineHeight: 30,
        rich: boxRich, verticalAlign: 'middle', textVerticalAlign: 'middle' } },
    { type: 'text', x: L + 326, y: T + 118, z: 5,
      style: { text: apLabels[p], fontSize: 22, fontFamily: FONT, fill: '#000', lineHeight: 30,
        rich: boxRich, verticalAlign: 'middle', textVerticalAlign: 'middle' } }
  );
}

const chart = echarts.init(document.getElementById('main'), null, { renderer: 'canvas' });
chart.setOption({
  animation: false,
  backgroundColor: '#ffffff',
  textStyle: { fontFamily: FONT },
  grid: grids,
  xAxis: xAxes,
  yAxis: yAxes,
  legend: legends,
  graphic: graphics,
  series: series
});
</script>
</body>
</html>
